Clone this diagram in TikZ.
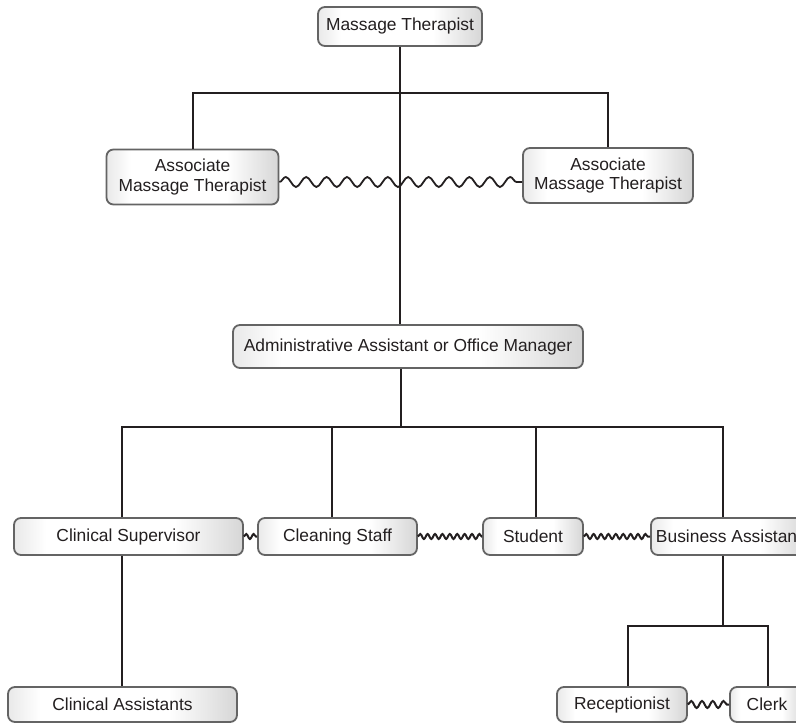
\documentclass[tikz,border=0pt]{standalone}
\usepackage{fontspec}
\setmainfont{Liberation Sans}
\usetikzlibrary{decorations.pathmorphing}
\definecolor{ink}{HTML}{231F20}
\definecolor{rim}{HTML}{646464}
\pgfdeclarehorizontalshading{boxshade}{100bp}{color(0bp)=(black!55); color(8bp)=(black!30); color(32bp)=(white); color(60bp)=(white); color(88bp)=(black!30); color(100bp)=(black!58)}
\tikzset{
  box/.style={draw=rim, line width=1.8pt, rounded corners=7pt, shading=boxshade,
    text=ink, inner sep=0pt, align=center,
    font=\fontsize{17.4}{19.5}\selectfont},
  conn/.style={draw=ink, line width=2pt},
  wavebig/.style={draw=ink, line width=1.8pt, decorate,
    decoration={snake, segment length=20.4pt, amplitude=5pt}},
  wavesmall/.style={draw=ink, line width=2pt, decorate,
    decoration={snake, segment length=7.4pt, amplitude=2.5pt}},
  wavemid/.style={draw=ink, line width=2pt, decorate,
    decoration={snake, segment length=10.75pt, amplitude=3.5pt}}
}
\begin{document}
\begin{tikzpicture}[x=1pt, y=-1pt]
\clip (0,0) rectangle (796,725);
\fill[white] (0,0) rectangle (796,725);
% nodes
\node[box, minimum width=164pt, minimum height=39pt] (mt) at (400,26.5) {Massage Therapist};
\node[box, minimum width=172pt, minimum height=55pt] (a1) at (192.5,177) {Associate\\Massage Therapist};
\node[box, minimum width=170pt, minimum height=55pt] (a2) at (608,175.5) {Associate\\Massage Therapist};
\node[box, minimum width=350pt, minimum height=43pt] (adm) at (408,346.5) {Administrative Assistant or Office Manager};
\node[box, minimum width=229pt, minimum height=37pt] (cs) at (128.5,536.5) {Clinical Supervisor};
\node[box, minimum width=159pt, minimum height=37pt] (cl) at (337.5,536.5) {Cleaning Staff};
\node[box, minimum width=100pt, minimum height=37pt] (st) at (533,536.5) {Student};
\node[box, minimum width=156pt, minimum height=37pt] (ba) at (729,536.5) {Business Assistant};
\node[box, minimum width=229pt, minimum height=35pt] (ca) at (122.5,704.5) {Clinical Assistants};
\node[box, minimum width=130pt, minimum height=35pt] (re) at (622,704.5) {Receptionist};
\node[box, minimum width=74pt, minimum height=35pt] (ck) at (767,704.5) {Clerk};
% junction coordinates
\coordinate (tb) at (400,93);
\coordinate (bb) at (401,427);
\coordinate (rb) at (723,626);
% connectors
\draw[conn] (mt.south) -- (mt.south |- adm.north);
\draw[conn] (a1.north) |- (a2.north |- tb) -- (a2.north);
\draw[conn] (adm.south -| bb) -- (bb);
\draw[conn] ([xshift=-6.5pt]cs.north) |- ([xshift=-6pt]ba.north |- bb) -- ([xshift=-6pt]ba.north);
\draw[conn] ([xshift=-5.5pt]cl.north) -- ([xshift=-5.5pt]cl.north |- bb);
\draw[conn] ([xshift=3pt]st.north) -- ([xshift=3pt]st.north |- bb);
\draw[conn] ([xshift=-6.5pt]cs.south) -- ([xshift=-6.5pt]cs.south |- ca.north);
\draw[conn] ([xshift=-6pt]ba.south) -- (rb);
\draw[conn] ([xshift=6pt]re.north) |- ([xshift=1pt]ck.north |- rb) -- ([xshift=1pt]ck.north);
% wavy links
\draw[wavebig] ([yshift=-5pt]a1.east) -- ([yshift=-6.5pt]a2.west);
\draw[wavesmall] (cs.east) -- (cl.west);
\draw[wavesmall] (cl.east) -- (st.west);
\draw[wavesmall] (st.east) -- (ba.west);
\draw[wavemid] (re.east) -- (ck.west);
\end{tikzpicture}
\end{document}
